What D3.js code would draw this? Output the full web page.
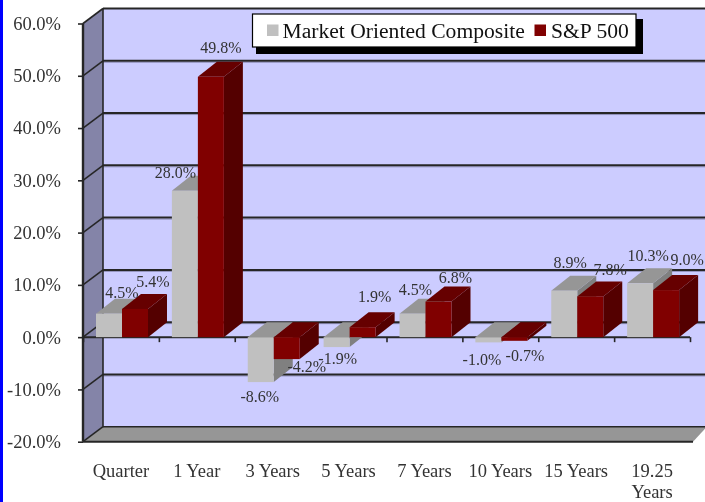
<!DOCTYPE html>
<html><head><meta charset="utf-8">
<script src="https://cdn.jsdelivr.net/npm/d3@7"></script>
<style>html,body{margin:0;padding:0;background:#fff}svg{display:block;filter:blur(0.35px)}text{font-family:"Liberation Serif",serif}</style>
</head><body><svg id="c" width="705" height="502"></svg>
<script>
const categories=["Quarter","1 Year","3 Years","5 Years","7 Years","10 Years","15 Years","19.25 Years"];
const seriesNames=["Market Oriented Composite","S&P 500"];
const composite=[4.5,28.0,-8.6,-1.9,4.5,-1.0,8.9,10.3];
const sp500=[5.4,49.8,-4.2,1.9,6.8,-0.7,7.8,9.0];
const yTicks=[-20,-10,0,10,20,30,40,50,60];
// label placement, as pixel nudges from the top-centre of each bar's front face
const nudgeComposite=[[13,-21],[-9.5,-18],[-1,15],[1,12],[3,-24],[-6.5,18],[6,-28],[8,-27]];
const nudgeSp=[[18,-26.5],[10,-29],[20,8],[12,-30],[17,-24],[10.5,15],[20,-26],[21,-30]];

const W=705,H=502,dx=20,dy=15,bx=19,by=15;
const svg=d3.select("#c");
const y=d3.scaleLinear().domain([-20,60]).range([441.7,23.5]);
const xCat=d3.scaleBand().domain(categories).range([83,690]);
const xSer=d3.scaleBand().domain([0,1]).range([13,65]);
const pts=a=>a.map(p=>p.join(",")).join(" ");
const dark="#262626";

svg.append("rect").attr("x",0).attr("y",0).attr("width",3).attr("height",H).attr("fill","#0000ff");
// walls
svg.append("polygon").attr("points",pts([[83+dx,y(60)-dy],[W,y(60)-dy],[W,y(-20)-dy],[83+dx,y(-20)-dy]])).attr("fill","#ccccff");
svg.append("polygon").attr("points",pts([[83,y(60)],[83+dx,y(60)-dy],[83+dx,y(-20)-dy],[83,y(-20)]])).attr("fill","#8484a8");
svg.append("polygon").attr("points",pts([[83,y(-20)],[83+dx,y(-20)-dy],[W,y(-20)-dy],[W,y(-20)-dy+2],[693,y(-20)],])).attr("fill","#969696");
// grid
yTicks.forEach(t=>{
  const g=svg.append("g").attr("fill","none");
  if(t<60&&t>-20) g.append("line").attr("x1",83+dx).attr("x2",W).attr("y1",y(t)-dy+1.5).attr("y2",y(t)-dy+1.5).attr("stroke","#8f8fb8").attr("stroke-width",1);
  g.append("line").attr("x1",83+dx).attr("x2",W).attr("y1",y(t)-dy).attr("y2",y(t)-dy).attr("stroke",dark).attr("stroke-width",t===-20?1.5:2);
  g.append("line").attr("x1",83).attr("x2",83+dx).attr("y1",y(t)).attr("y2",y(t)-dy).attr("stroke",dark).attr("stroke-width",1.6);
});
svg.append("line").attr("x1",83+dx).attr("x2",83+dx).attr("y1",y(60)-dy).attr("y2",y(-20)-dy).attr("stroke",dark).attr("stroke-width",1.6);
// floor front edge
svg.append("line").attr("x1",83).attr("x2",693).attr("y1",y(-20)).attr("y2",y(-20)).attr("stroke",dark).attr("stroke-width",2);

// y axis
const ax=svg.append("g").attr("transform","translate(83,0)").call(d3.axisLeft(y).tickValues(yTicks).tickSize(5).tickPadding(17).tickFormat(d=>d.toFixed(1)+"%"));
ax.select(".domain").attr("stroke",dark).attr("stroke-width",2.4).attr("d",`M0,${y(60)}V${y(-20)}`);
ax.selectAll(".tick line").attr("stroke",dark).attr("stroke-width",1.6);
ax.selectAll("text").attr("font-size",18.5).attr("fill","#333").style("font-family","Liberation Serif");

// x axis at zero
const zero=svg.append("g").attr("transform",`translate(0,${y(0)})`)
 .call(d3.axisBottom(d3.scaleLinear().domain([0,8]).range([83,690])).tickValues(d3.range(0,9)).tickSize(5).tickFormat(""));
zero.select(".domain").attr("stroke",dark).attr("stroke-width",2).attr("d","M83,0H690");
zero.selectAll(".tick line").attr("stroke",dark).attr("stroke-width",1.6);

// bars
const palettes=[{front:"#c0c0c0",top:"#969696",side:"#808080"},{front:"#800000",top:"#660000",side:"#540000"}];
const marks=[];
categories.forEach((c,i)=>{[composite,sp500].forEach((s,k)=>marks.push({c,k,v:s[i]}));});
const bars=svg.append("g").selectAll("g").data(marks).join("g");
const X0=d=>xCat(d.c)+xSer(d.k), X1=d=>X0(d)+xSer.bandwidth();
const T=d=>y(Math.max(d.v,0)), B=d=>y(Math.min(d.v,0));
bars.append("polygon").attr("fill",d=>palettes[d.k].side)
  .attr("points",d=>pts([[X1(d),T(d)],[X1(d)+bx,T(d)-by],[X1(d)+bx,B(d)-by],[X1(d),B(d)]]));
bars.append("polygon").attr("fill",d=>palettes[d.k].top)
  .attr("points",d=>pts([[X0(d),T(d)],[X0(d)+bx,T(d)-by],[X1(d)+bx,T(d)-by],[X1(d),T(d)]]));
bars.append("rect").attr("fill",d=>palettes[d.k].front)
  .attr("x",X0).attr("y",T).attr("width",xSer.bandwidth()).attr("height",d=>Math.max(B(d)-T(d),1));

// value labels
svg.append("g").selectAll("text").data(marks).join("text")
  .attr("text-anchor","middle").attr("font-size",16).attr("fill","#333")
  .attr("x",d=>{const i=categories.indexOf(d.c);return (X0(d)+X1(d))/2+(d.k?nudgeSp:nudgeComposite)[i][0];})
  .attr("y",d=>{const i=categories.indexOf(d.c);return y(d.v)+(d.k?nudgeSp:nudgeComposite)[i][1]+5;})
  .text(d=>d.v.toFixed(1)+"%");

// category labels
const catG=svg.append("g").selectAll("text").data(categories).join("text")
  .attr("text-anchor","middle").attr("font-size",18.5).attr("fill","#333")
  .attr("x",c=>xCat(c)+xCat.bandwidth()/2).attr("y",477);
catG.each(function(c){
  const parts=c==="19.25 Years"?["19.25","Years"]:[c];
  parts.forEach((p,j)=>d3.select(this).append("tspan").attr("x",xCat(c)+xCat.bandwidth()/2).attr("dy",j?21:0).text(p));
});

// legend
const lg=svg.append("g");
lg.append("rect").attr("x",256).attr("y",19).attr("width",387).attr("height",35).attr("fill","#000");
lg.append("rect").attr("x",252.5).attr("y",14).attr("width",383.5).attr("height",33).attr("fill","#fff").attr("stroke","#000").attr("stroke-width",1.2);
const legendX=[[267,282.5],[534.5,551]];
seriesNames.forEach((n,k)=>{
  lg.append("rect").attr("x",legendX[k][0]).attr("y",24.5).attr("width",11.5).attr("height",11.5).attr("fill",palettes[k].front);
  lg.append("text").attr("x",legendX[k][1]).attr("y",38).attr("font-size",21.6).attr("fill","#111").text(n);
});
</script></body></html>
